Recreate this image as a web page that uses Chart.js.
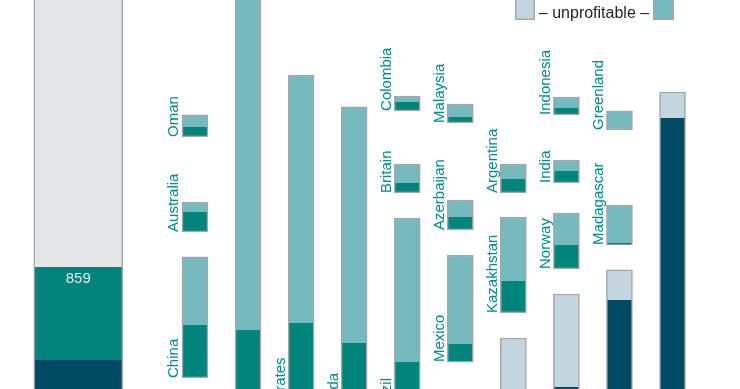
<!DOCTYPE html>
<html>
<head>
<meta charset="utf-8">
<script src="https://cdn.jsdelivr.net/npm/chart.js@4.4.1/dist/chart.umd.min.js"></script>
<style>
    html, body { margin: 0; padding: 0; background: #fff; }
    #chart-box { width: 740px; height: 389px; overflow: hidden; }
</style>
</head>
<body>
<div id="chart-box"><canvas id="reserves-chart" width="740" height="389"></canvas></div>
<script>
// values, in the units of the "859" block.
// every block is [base, profitable top, unprofitable top].
const countries = ['Oman', 'Australia', 'China', '', 'United Arab Emirates', 'Canada',
    'Colombia', 'Britain', 'Brazil', 'Malaysia', 'Azerbaijan', 'Mexico',
    'Argentina', 'Kazakhstan', 'Indonesia', 'India', 'Norway', 'Greenland', 'Madagascar'];
const countryColumn = [1, 1, 1, 2, 3, 4, 5, 5, 5, 6, 6, 6, 7, 7, 8, 8, 8, 9, 9];
const unprofitableTop = [2532, 1728, 1220, 3700, 2901, 2606, 2707, 2079, 1580, 2633, 1746, 1238,
    2079, 1589, 2698, 2116, 1626, 2569, 1700];
const profitableTop = [2421, 1635, 591, 545, 610, 425, 2652, 1903, 249, 2513, 1589, 416,
    1940, 998, 2596, 2014, 1331, 2393, 1349];
const blockBase = [2328, 1451, 102, -300, -1026, -337, 2569, 1811, -245, 2458, 1469, 249,
    1811, 702, 2532, 1903, 1109, 2393, 1331];

// grey / navy blocks on the right.
const otherColumn = [7, 8, 9, 10];
const otherTop = [471, 878, 1100, 2744];
const otherSplit = [-300, 18, 822, 2504];
const otherBase = [-300, -300, -300, -300];

// the wide total on the left.
const totalTop = 3700;
const totalProfitable = 859;
const totalProfitableBase = 268;
const totalBase = -300;

const legendText = '\u2013 unprofitable \u2013';

// layout and colours.
const TOTAL_SLOT = -1.2;
const BAR_WIDTH = 26;
const TOTAL_WIDTH = 89;
const EDGE = 1.5;
const EDGE_COLOUR = '#a4a6a9';
const LIGHT_TEAL = '#76babe';
const DARK_TEAL = '#00847b';
const NAVY = '#004b63';
const PALE_GREY = '#e5e6e8';
const BLUE_GREY = '#c3d6de';
const LABEL_COLOUR = '#008a8a';
const FONT = '"Liberation Sans", Arial, sans-serif';

function blocks(cols, lo, hi) {
    let data = [];
    for (let i = 0; i < cols.length; i++) {
        data.push({x: cols[i], y: [lo[i], hi[i]]});
    }
    return data;
}

// upper part keeps its bottom edge only when there is nothing below it.
function upperEdge(split, base) {
    return (ctx) => ({
        top: EDGE, left: EDGE, right: EDGE,
        bottom: split[ctx.dataIndex] <= base[ctx.dataIndex] ? EDGE : 0
    });
}

const lowerEdge = {top: 0, left: EDGE, right: EDGE, bottom: EDGE};

const datasets = [
    {
        label: 'total unprofitable', backgroundColor: PALE_GREY, barThickness: TOTAL_WIDTH,
        borderWidth: {top: EDGE, left: EDGE, right: EDGE, bottom: 0},
        data: [{x: TOTAL_SLOT, y: [totalProfitableBase + totalProfitable, totalTop]}]
    },
    {
        label: 'total profitable', backgroundColor: DARK_TEAL, barThickness: TOTAL_WIDTH,
        borderWidth: {top: 0, left: EDGE, right: EDGE, bottom: 0},
        data: [{x: TOTAL_SLOT, y: [totalProfitableBase, totalProfitableBase + totalProfitable]}]
    },
    {
        label: 'total rest', backgroundColor: NAVY, barThickness: TOTAL_WIDTH,
        borderWidth: lowerEdge,
        data: [{x: TOTAL_SLOT, y: [totalBase, totalProfitableBase]}]
    },
    {
        label: 'unprofitable', backgroundColor: LIGHT_TEAL, barThickness: BAR_WIDTH,
        borderWidth: upperEdge(profitableTop, blockBase),
        data: blocks(countryColumn, profitableTop, unprofitableTop)
    },
    {
        label: 'profitable', backgroundColor: DARK_TEAL, barThickness: BAR_WIDTH,
        borderWidth: lowerEdge,
        data: blocks(countryColumn, blockBase, profitableTop)
    },
    {
        label: 'other unprofitable', backgroundColor: BLUE_GREY, barThickness: BAR_WIDTH,
        borderWidth: upperEdge(otherSplit, otherBase),
        data: blocks(otherColumn, otherSplit, otherTop)
    },
    {
        label: 'other profitable', backgroundColor: NAVY, barThickness: BAR_WIDTH,
        borderWidth: lowerEdge,
        data: blocks(otherColumn, otherBase, otherSplit)
    },
];

const labelPlugin = {
    id: 'reserveLabels',
    afterDatasetsDraw(chart) {
        const ctx = chart.ctx;
        const xs = chart.scales.x;
        const ys = chart.scales.y;
        ctx.save();

        // country names, rotated, left of each block and starting at its base.
        ctx.font = '15px ' + FONT;
        ctx.fillStyle = LABEL_COLOUR;
        ctx.textAlign = 'left';
        ctx.textBaseline = 'alphabetic';
        for (let i = 0; i < countries.length; i++) {
            if ('' === countries[i]) {
                continue;
            }
            const px = xs.getPixelForValue(countryColumn[i]) - BAR_WIDTH / 2 - 3.5;
            const py = ys.getPixelForValue(blockBase[i]);
            ctx.save();
            ctx.translate(px, py);
            ctx.rotate(-Math.PI / 2);
            ctx.fillText(countries[i], 0, 0);
            ctx.restore();
        }

        // value inside the total.
        ctx.fillStyle = '#d9efe7';
        ctx.textAlign = 'center';
        ctx.fillText(String(totalProfitable), xs.getPixelForValue(TOTAL_SLOT),
            ys.getPixelForValue(totalProfitableBase + totalProfitable) + 16);

        // legend: two swatches round the text.
        ctx.lineWidth = EDGE;
        ctx.strokeStyle = EDGE_COLOUR;
        ctx.fillStyle = BLUE_GREY;
        ctx.fillRect(515, -1, 20, 21);
        ctx.strokeRect(515.75, -1, 18.5, 20.25);
        ctx.fillStyle = LIGHT_TEAL;
        ctx.fillRect(653, -1, 21, 21);
        ctx.strokeRect(653.75, -1, 19.5, 20.25);
        ctx.font = '16px ' + FONT;
        ctx.fillStyle = '#231f20';
        ctx.fillText(legendText, 594, 18);

        ctx.restore();
    }
};

new Chart(document.querySelector('#reserves-chart'), {
    type: 'bar',
    data: {datasets: datasets},
    options: {
        responsive: false,
        animation: false,
        events: [],
        layout: {padding: 0},
        datasets: {
            bar: {borderColor: EDGE_COLOUR, borderSkipped: false}
        },
        plugins: {legend: {display: false}, tooltip: {enabled: false}},
        scales: {
            x: {type: 'linear', min: -2.675, max: 11.272, offset: false, stacked: true, display: false},
            y: {min: 0, max: 3594, display: false}
        }
    },
    plugins: [labelPlugin]
});
</script>
</body>
</html>
